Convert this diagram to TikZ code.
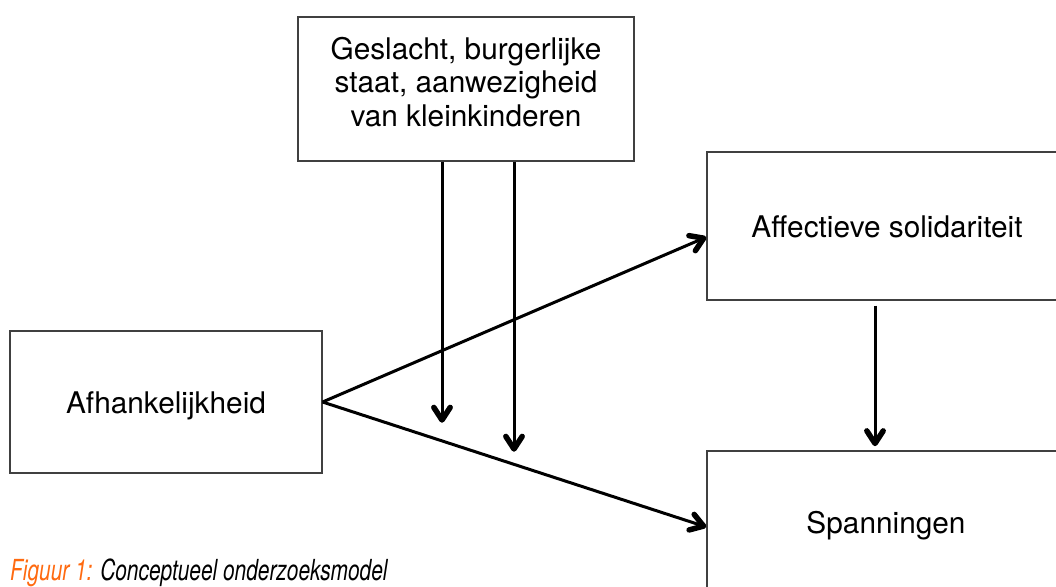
\documentclass[tikz,border=0pt]{standalone}
\usepackage{fontspec}
\setmainfont{TeX Gyre Heros}
\usetikzlibrary{arrows.meta,calc}
\definecolor{figorange}{HTML}{FF6A10}
\newcommand\chev[2]{%
  \draw[headonly] ($(#1)!3pt!(#2)!15pt!-33:(#2)$) -- ($(#1)!3pt!(#2)$) -- ($(#1)!3pt!(#2)!15pt!33:(#2)$);}
\begin{document}
\begin{tikzpicture}[x=1pt,y=-1pt,
  box/.style={draw=black!75, line width=1.1pt, inner sep=0pt},
  lbl/.style={font=\fontsize{29.8}{33.5}\selectfont, align=center, inner sep=0pt},
  shaft/.style={line width=3pt, shorten >=3pt},
  headonly/.style={line width=5.5pt, line cap=round, line join=round}]
\useasboundingbox (0,0) rectangle (1056,586);
\clip (0,0) rectangle (1056,586);
% boxes
\node[box, minimum width=336pt, minimum height=144pt] (top) at (466,89) {};
\node[box, minimum width=360pt, minimum height=148pt] (aff) at (887,226) {};
\node[box, minimum width=360pt, minimum height=142pt] (span) at (887,522) {};
\node[box, minimum width=312pt, minimum height=142pt] (afh) at (166,402) {};
% labels
\node[lbl, anchor=north] (toplbl) at (466,37) {Geslacht, burgerlijke\\staat, aanwezigheid\\van kleinkinderen};
\node[lbl, anchor=base] (afflbl) at (887,237) {Affectieve solidariteit};
\node[lbl, anchor=base] (spanlbl) at (886,533) {Spanningen};
\node[lbl, anchor=base] (afhlbl) at (166,413) {Afhankelijkheid};
% connector ends
\coordinate (m1) at (442,423);
\coordinate (m2) at (514,452);
\coordinate (s1) at (top.south -| m1);
\coordinate (s2) at (top.south -| m2);
\coordinate (t1) at ([yshift=-11pt]aff.west);
\coordinate (t2) at ([yshift=-5pt]span.west);
\coordinate (a3) at ([xshift=-12pt,yshift=-5pt]aff.south);
\coordinate (t3) at ([xshift=-12pt,yshift=4pt]span.north);
% connectors
\draw[shaft] (afh.east) -- (t1); \chev{t1}{afh.east}
\draw[shaft] (afh.east) -- (t2); \chev{t2}{afh.east}
\draw[shaft] (s1) -- (m1); \chev{m1}{s1}
\draw[shaft] (s2) -- (m2); \chev{m2}{s2}
\draw[shaft] (a3) -- (t3); \chev{t3}{a3}
% caption
\node[anchor=base west, inner sep=0pt, xscale=0.72, font=\fontsize{29}{33}\selectfont\itshape] (cap) at (10,580)
  {\textcolor{figorange}{Figuur 1:} Conceptueel onderzoeksmodel};
\end{tikzpicture}
\end{document}
